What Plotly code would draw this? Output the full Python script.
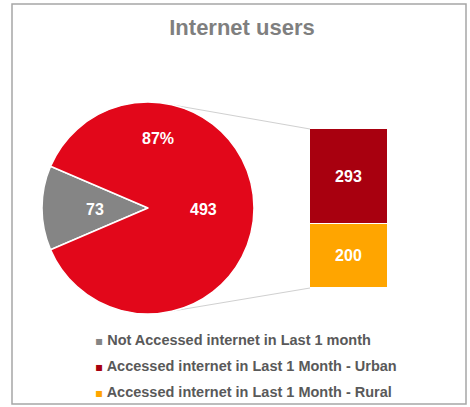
import numpy as np
import plotly.graph_objects as go

# ---- data ----
pie_labels = ["Not Accessed internet in Last 1 month", "Accessed internet in Last 1 Month"]
pie_values = [73, 493]
bar_labels = ["Accessed internet in Last 1 Month - Rural", "Accessed internet in Last 1 Month - Urban"]
bar_values = [200, 293]
legend_labels = [pie_labels[0], bar_labels[1], bar_labels[0]]
title_text = "Internet users"

# ---- styles ----
W, H = 470, 407
GRAY = "#858585"
RED = "#E2071A"
DARK = "#A8000F"
ORANGE = "#FFA500"
FONT = "Liberation Sans, Arial, sans-serif"

def px(x):
    return x / W

def py(y):
    return 1 - y / H

# pie geometry (pixels)
cx, cy, r = 148, 208, 106
gray_frac = pie_values[0] / sum(pie_values)
gray_deg = 360 * gray_frac

fig = go.Figure()

fig.add_trace(go.Pie(
    labels=pie_labels, values=pie_values, sort=False,
    direction="clockwise", rotation=270 - gray_deg / 2,
    marker=dict(colors=[GRAY, RED], line=dict(color="white", width=1.5)),
    textinfo="none", hoverinfo="label+value", showlegend=False,
    domain=dict(x=[px(cx - r), px(cx + r)], y=[py(cy + r), py(cy - r)]),
))

# stacked bar (rural bottom, urban top)
bx0, bx1, by_top, by_bot = 310, 388, 129, 288
for lab, val, col in zip(bar_labels, bar_values, [ORANGE, DARK]):
    fig.add_trace(go.Bar(
        x=[0], y=[val], width=1, name=lab, showlegend=False,
        marker=dict(color=col, line=dict(color="white", width=1)),
        texttemplate="%{y}", textposition="inside", insidetextanchor="middle",
        textangle=0,
        textfont=dict(color="white", size=16, family=FONT, weight="bold"),
        xaxis="x", yaxis="y",
    ))

# pie labels from data
ann = [
    dict(text=str(pie_values[0]), x=px(95), y=py(209)),
    dict(text=str(pie_values[1]), x=px(203), y=py(209)),
    dict(text=f"{round(100 * pie_values[1] / sum(pie_values))}%", x=px(158), y=py(138)),
]
annotations = [dict(**a, xref="paper", yref="paper", showarrow=False,
                    xanchor="center", yanchor="middle",
                    font=dict(color="white", size=16, family=FONT, weight="bold"))
               for a in ann]

# legend drawn as text rows with coloured squares
leg_cols = [GRAY, DARK, ORANGE]
leg_y = [340, 366, 392]
for name, col, yy in zip(legend_labels, leg_cols, leg_y):
    annotations.append(dict(
        text=f"<span style='font-family:DejaVu Sans;font-size:12px;color:{col}'>▪</span> {name}",
        x=px(93), y=py(yy), xref="paper", yref="paper", showarrow=False,
        xanchor="left", yanchor="middle",
        font=dict(family=FONT, size=14.5, color="#595959", weight="bold"),
    ))

# connector lines from pie edge to bar corners
ang_top = np.deg2rad(76)
p_top = (cx + r * np.cos(ang_top), cy - r * np.sin(ang_top))
p_bot = (cx + r * np.cos(ang_top), cy + r * np.sin(ang_top))
shapes = [
    dict(type="line", xref="paper", yref="paper", x0=px(p_top[0]), y0=py(p_top[1]),
         x1=px(bx0), y1=py(by_top), line=dict(color="#d0d0d0", width=1), layer="below"),
    dict(type="line", xref="paper", yref="paper", x0=px(p_bot[0]), y0=py(p_bot[1]),
         x1=px(bx0), y1=py(by_bot), line=dict(color="#d0d0d0", width=1), layer="below"),
    dict(type="rect", xref="paper", yref="paper", x0=px(12), y0=py(404), x1=px(466), y1=py(4),
         line=dict(color="#a6a6a6", width=1.5), fillcolor="rgba(0,0,0,0)"),
]

fig.update_layout(
    width=W, height=H, margin=dict(l=0, r=0, t=0, b=0),
    paper_bgcolor="white", plot_bgcolor="white",
    barmode="stack", bargap=0, showlegend=False,
    title=dict(text=title_text, x=px(242), xanchor="center", y=py(27), yanchor="middle",
               font=dict(family=FONT, size=22, color="#7f7f7f", weight="bold")),
    xaxis=dict(domain=[px(bx0), px(bx1)], range=[-0.5, 0.5], visible=False, fixedrange=True),
    yaxis=dict(domain=[py(by_bot), py(by_top)], range=[0, sum(bar_values)], visible=False,
               fixedrange=True),
    annotations=annotations, shapes=shapes,
)

fig.write_html("out.html")
